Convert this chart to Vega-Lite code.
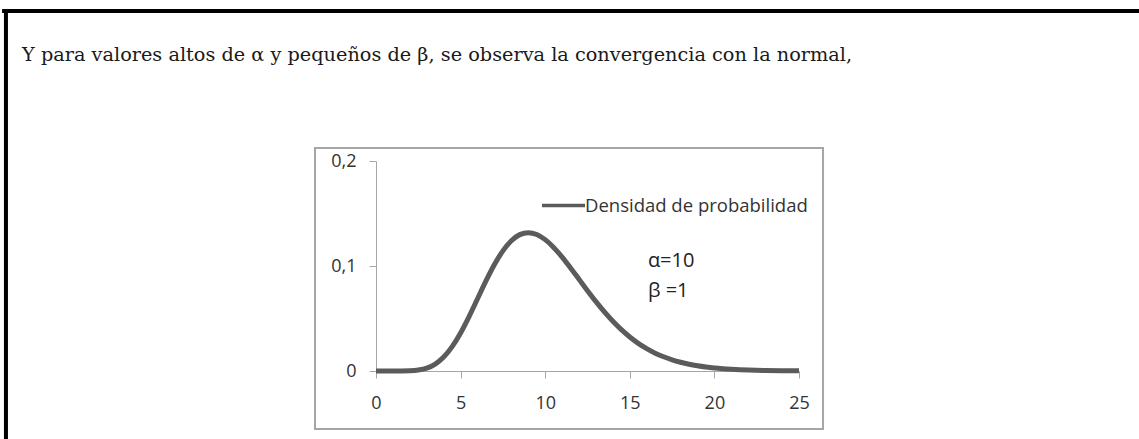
{
  "$schema": "https://vega.github.io/schema/vega-lite/v6.json",
  "width": 423,
  "height": 210,
  "autosize": {"type": "none"},
  "padding": {"left": 376, "top": 161, "right": 340, "bottom": 68},
  "background": "white",
  "config": {
    "view": {"stroke": null},
    "axis": {"grid": false, "title": null}
  },
  "datasets": {
    "curva": [
      {"x": 0, "y": 0, "serie": "Densidad de probabilidad"},
      {"x": 0.5, "y": 0, "serie": "Densidad de probabilidad"},
      {"x": 1, "y": 0.000001, "serie": "Densidad de probabilidad"},
      {"x": 1.5, "y": 0.000024, "serie": "Densidad de probabilidad"},
      {"x": 2, "y": 0.000191, "serie": "Densidad de probabilidad"},
      {"x": 2.5, "y": 0.000863, "serie": "Densidad de probabilidad"},
      {"x": 3, "y": 0.0027, "serie": "Densidad de probabilidad"},
      {"x": 3.5, "y": 0.00656, "serie": "Densidad de probabilidad"},
      {"x": 4, "y": 0.01323, "serie": "Densidad de probabilidad"},
      {"x": 4.5, "y": 0.02316, "serie": "Densidad de probabilidad"},
      {"x": 5, "y": 0.03627, "serie": "Densidad de probabilidad"},
      {"x": 5.5, "y": 0.05187, "serie": "Densidad de probabilidad"},
      {"x": 6, "y": 0.06884, "serie": "Densidad de probabilidad"},
      {"x": 6.5, "y": 0.08581, "serie": "Densidad de probabilidad"},
      {"x": 7, "y": 0.1014, "serie": "Densidad de probabilidad"},
      {"x": 7.5, "y": 0.11444, "serie": "Densidad de probabilidad"},
      {"x": 8, "y": 0.12408, "serie": "Densidad de probabilidad"},
      {"x": 8.5, "y": 0.12987, "serie": "Densidad de probabilidad"},
      {"x": 9, "y": 0.13176, "serie": "Densidad de probabilidad"},
      {"x": 9.5, "y": 0.13, "serie": "Densidad de probabilidad"},
      {"x": 10, "y": 0.12511, "serie": "Densidad de probabilidad"},
      {"x": 10.5, "y": 0.11772, "serie": "Densidad de probabilidad"},
      {"x": 11, "y": 0.10853, "serie": "Densidad de probabilidad"},
      {"x": 11.5, "y": 0.0982, "serie": "Densidad de probabilidad"},
      {"x": 12, "y": 0.08736, "serie": "Densidad de probabilidad"},
      {"x": 12.5, "y": 0.07651, "serie": "Densidad de probabilidad"},
      {"x": 13, "y": 0.06605, "serie": "Densidad de probabilidad"},
      {"x": 13.5, "y": 0.05627, "serie": "Densidad de probabilidad"},
      {"x": 14, "y": 0.04734, "serie": "Densidad de probabilidad"},
      {"x": 14.5, "y": 0.03938, "serie": "Densidad de probabilidad"},
      {"x": 15, "y": 0.03241, "serie": "Densidad de probabilidad"},
      {"x": 15.5, "y": 0.02634, "serie": "Densidad de probabilidad"},
      {"x": 16, "y": 0.02131, "serie": "Densidad de probabilidad"},
      {"x": 16.5, "y": 0.01701, "serie": "Densidad de probabilidad"},
      {"x": 17, "y": 0.01353, "serie": "Densidad de probabilidad"},
      {"x": 17.5, "y": 0.01065, "serie": "Densidad de probabilidad"},
      {"x": 18, "y": 0.008325, "serie": "Densidad de probabilidad"},
      {"x": 18.5, "y": 0.006448, "serie": "Densidad de probabilidad"},
      {"x": 19, "y": 0.004982, "serie": "Densidad de probabilidad"},
      {"x": 19.5, "y": 0.003818, "serie": "Densidad de probabilidad"},
      {"x": 20, "y": 0.002908, "serie": "Densidad de probabilidad"},
      {"x": 20.5, "y": 0.002203, "serie": "Densidad de probabilidad"},
      {"x": 21, "y": 0.00166, "serie": "Densidad de probabilidad"},
      {"x": 21.5, "y": 0.001244, "serie": "Densidad de probabilidad"},
      {"x": 22, "y": 0.000928, "serie": "Densidad de probabilidad"},
      {"x": 23, "y": 0.000509, "serie": "Densidad de probabilidad"},
      {"x": 24, "y": 0.000275, "serie": "Densidad de probabilidad"},
      {"x": 25, "y": 0.000146, "serie": "Densidad de probabilidad"}
    ]
  },
  "layer": [
    {
      "data": {"values": [{}]},
      "mark": {"type": "rule", "color": "black", "strokeWidth": 4},
      "encoding": {
        "x": {"datum": -21.87, "type": "quantitative", "scale": {"domain": [0, 25], "nice": false, "zero": false}},
        "y": {"datum": 0.3429, "type": "quantitative", "scale": {"domain": [0, 0.2], "nice": false}},
        "y2": {"datum": -0.2}
      }
    },
    {
      "data": {"values": [{}]},
      "mark": {"type": "rule", "color": "black", "strokeWidth": 4},
      "encoding": {
        "x": {"datum": -22.1, "type": "quantitative"},
        "x2": {"datum": 46},
        "y": {"datum": 0.3429, "type": "quantitative"}
      }
    },
    {
      "data": {"values": [{}]},
      "mark": {"type": "rect", "fill": null, "stroke": "#a6a6a6", "strokeWidth": 2},
      "encoding": {
        "x": {"datum": -3.605, "type": "quantitative"},
        "x2": {"datum": 26.42},
        "y": {"datum": 0.2124, "type": "quantitative"},
        "y2": {"datum": -0.0552}
      }
    },
    {
      "data": {"values": [{"texto": "Y para valores altos de α y pequeños de β, se observa la convergencia con la normal,"}]},
      "mark": {"type": "text", "align": "left", "baseline": "alphabetic", "font": "DejaVu Serif", "fontSize": 19.3, "color": "#1a1a1a"},
      "encoding": {
        "x": {"datum": -20.92, "type": "quantitative"},
        "y": {"datum": 0.2952, "type": "quantitative"},
        "text": {"field": "texto"}
      }
    },
    {
      "data": {"name": "curva"},
      "mark": {"type": "line", "strokeWidth": 5, "interpolate": "monotone", "strokeCap": "butt"},
      "encoding": {
        "x": {
          "field": "x", "type": "quantitative",
          "scale": {"domain": [0, 25], "nice": false, "zero": false},
          "axis": {
            "values": [0, 5, 10, 15, 20, 25],
            "domainColor": "#a6a6a6", "tickColor": "#a6a6a6",
            "tickSize": 7, "labelPadding": 16,
            "labelFont": "Open Sans", "labelFontSize": 18, "labelColor": "#333333",
            "labelFlush": false
          }
        },
        "y": {
          "field": "y", "type": "quantitative",
          "scale": {"domain": [0, 0.2], "nice": false},
          "axis": {
            "values": [0, 0.1, 0.2],
            "labelExpr": "replace(format(datum.value, '~g'), '.', ',')",
            "domainColor": "#a6a6a6", "tickColor": "#a6a6a6",
            "tickSize": 7, "labelPadding": 13,
            "labelFont": "Open Sans", "labelFontSize": 18, "labelColor": "#333333",
            "labelFlush": false
          }
        },
        "color": {
          "field": "serie", "type": "nominal",
          "scale": {"range": ["#5b5b5b"]},
          "legend": {
            "title": null, "orient": "none", "legendX": 164, "legendY": 21,
            "padding": 0,
            "symbolType": "stroke", "symbolSize": 1849, "symbolStrokeWidth": 3.5,
            "labelFont": "Open Sans", "labelFontSize": 18.5, "labelColor": "#333333",
            "labelOffset": -2, "labelLimit": 0
          }
        }
      }
    },
    {
      "data": {"values": [{"texto": "α=10"}]},
      "mark": {"type": "text", "align": "left", "baseline": "middle", "font": "Open Sans", "fontSize": 20, "color": "#222222"},
      "encoding": {
        "x": {"datum": 16.07, "type": "quantitative"},
        "y": {"datum": 0.1048, "type": "quantitative"},
        "text": {"field": "texto"}
      }
    },
    {
      "data": {"values": [{"texto": "β =1"}]},
      "mark": {"type": "text", "align": "left", "baseline": "middle", "font": "Open Sans", "fontSize": 20, "color": "#222222"},
      "encoding": {
        "x": {"datum": 16.07, "type": "quantitative"},
        "y": {"datum": 0.0762, "type": "quantitative"},
        "text": {"field": "texto"}
      }
    }
  ]
}
